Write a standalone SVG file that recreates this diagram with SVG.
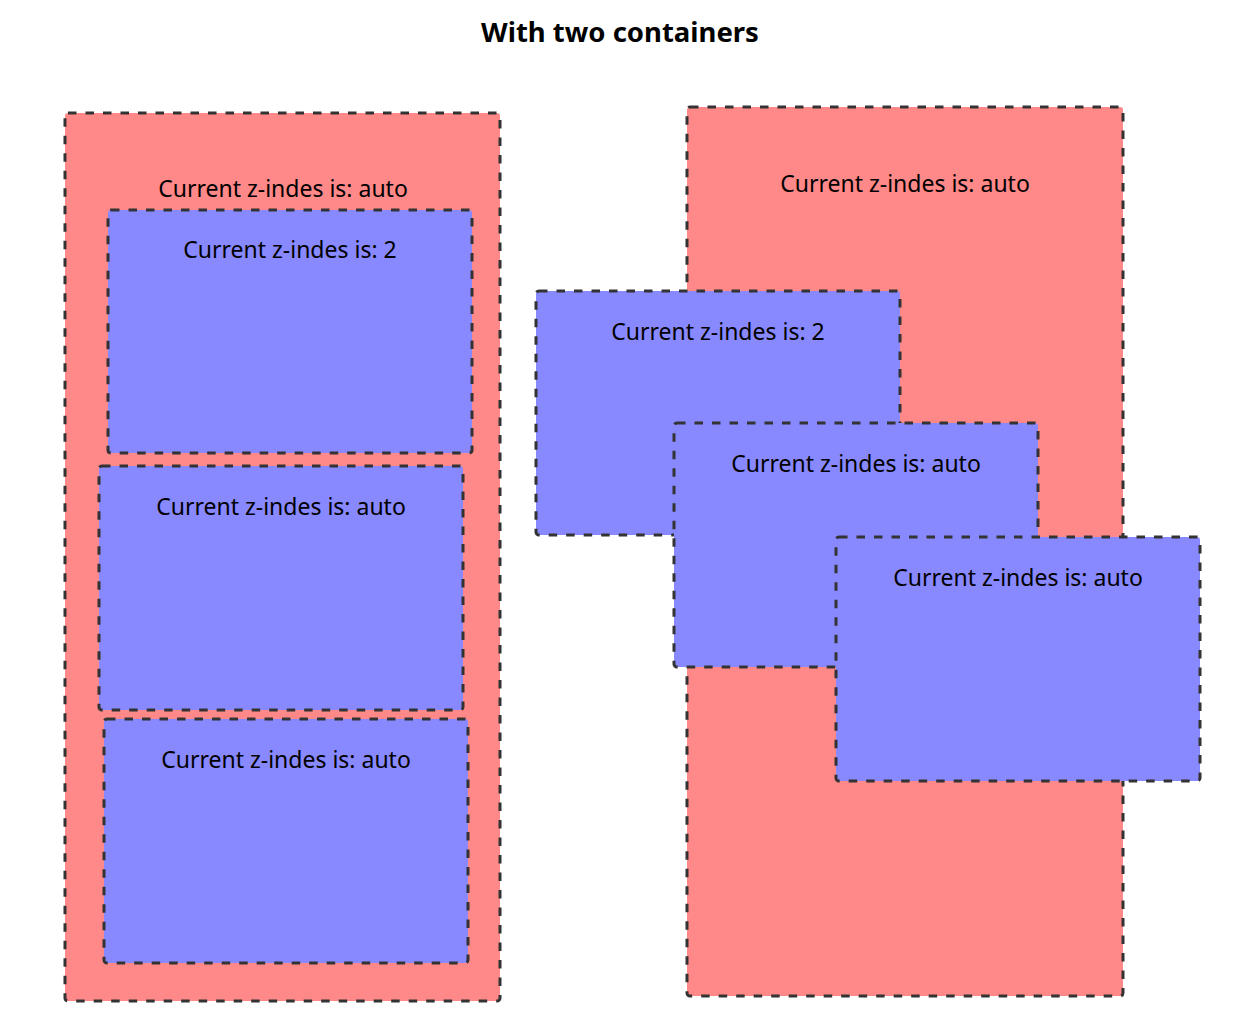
<svg xmlns="http://www.w3.org/2000/svg" width="1245" height="1031" viewBox="0 0 1245 1031">
<style>
.red{fill:#ff8888;stroke:#333333;stroke-width:3;stroke-dasharray:8.5 9}
.blue{fill:#8888ff;stroke:#333333;stroke-width:3;stroke-dasharray:8.5 9}
.lbl{font-family:"Noto Sans","Open Sans",sans-serif;font-size:23px;fill:#000;text-anchor:middle}
.title{font-family:"Noto Sans","Open Sans",sans-serif;font-size:27.5px;font-weight:bold;fill:#000;text-anchor:middle}
</style>
<rect width="1245" height="1031" fill="#ffffff"/>
<text class="title" x="620" y="42">With two containers</text>
<g id="left-container">
<rect class="red" x="65" y="113" width="435" height="888" rx="3"/>
<text class="lbl" x="283" y="197">Current z-indes is: auto</text>
</g>
<g id="left-box-1">
<rect class="blue" x="108" y="210" width="364" height="243" rx="3"/>
<text class="lbl" x="290" y="258">Current z-indes is: 2</text>
</g>
<g id="left-box-2">
<rect class="blue" x="99" y="466" width="364" height="244" rx="3"/>
<text class="lbl" x="281" y="515">Current z-indes is: auto</text>
</g>
<g id="left-box-3">
<rect class="blue" x="104" y="719" width="364" height="244" rx="3"/>
<text class="lbl" x="286" y="768">Current z-indes is: auto</text>
</g>
<g id="right-container">
<rect class="red" x="687" y="107" width="436" height="889" rx="3"/>
<text class="lbl" x="905" y="192">Current z-indes is: auto</text>
</g>
<g id="right-box-1">
<rect class="blue" x="536" y="291" width="364" height="244" rx="3"/>
<text class="lbl" x="718" y="340">Current z-indes is: 2</text>
</g>
<g id="right-box-2">
<rect class="blue" x="674" y="423" width="364" height="244" rx="3"/>
<text class="lbl" x="856" y="472">Current z-indes is: auto</text>
</g>
<g id="right-box-3">
<rect class="blue" x="836" y="537" width="364" height="244" rx="3"/>
<text class="lbl" x="1018" y="586">Current z-indes is: auto</text>
</g>
<g id="connectors"></g>
</svg>
